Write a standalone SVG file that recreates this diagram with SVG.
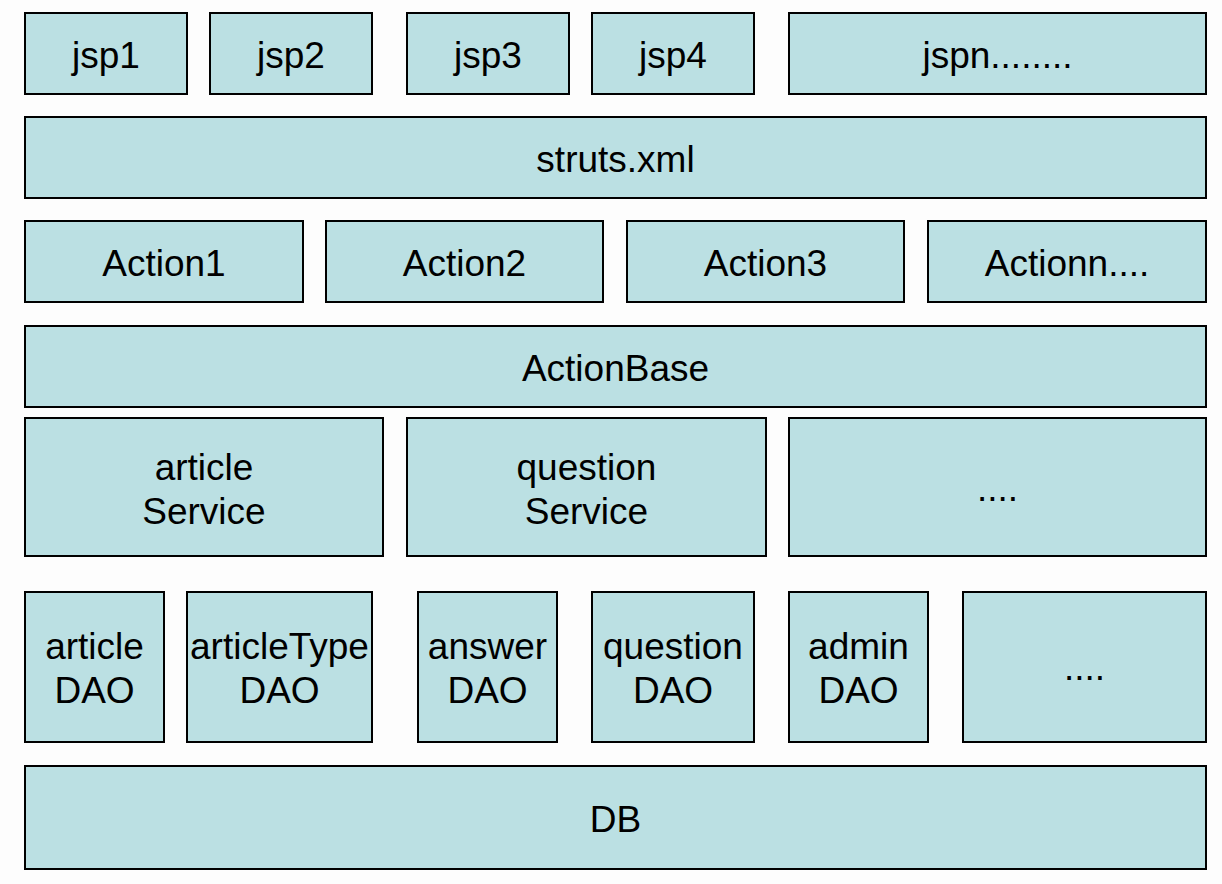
<svg xmlns="http://www.w3.org/2000/svg" width="1222" height="884" viewBox="0 0 1222 884">
<style>
.box{fill:#BBE0E3;stroke:#000;stroke-width:2}
.t{font-family:"Liberation Sans",Arial,sans-serif;font-size:37px;fill:#000;text-anchor:middle}
</style>
<rect width="1222" height="884" fill="#fdfdfd"/>
<g id="jsp1"><rect class="box" x="25" y="13" width="162" height="81"/><text class="t" x="106" y="68">jsp1</text></g>
<g id="jsp2"><rect class="box" x="210" y="13" width="162" height="81"/><text class="t" x="291" y="68">jsp2</text></g>
<g id="jsp3"><rect class="box" x="407" y="13" width="162" height="81"/><text class="t" x="488" y="68">jsp3</text></g>
<g id="jsp4"><rect class="box" x="592" y="13" width="162" height="81"/><text class="t" x="673" y="68">jsp4</text></g>
<g id="jspn"><rect class="box" x="789" y="13" width="417" height="81"/><text class="t" x="997.5" y="68">jspn........</text></g>
<g id="struts"><rect class="box" x="25" y="117" width="1181" height="81"/><text class="t" x="615.5" y="172">struts.xml</text></g>
<g id="action1"><rect class="box" x="25" y="221" width="278" height="81"/><text class="t" x="164" y="276">Action1</text></g>
<g id="action2"><rect class="box" x="326" y="221" width="277" height="81"/><text class="t" x="464.5" y="276">Action2</text></g>
<g id="action3"><rect class="box" x="627" y="221" width="277" height="81"/><text class="t" x="765.5" y="276">Action3</text></g>
<g id="actionn"><rect class="box" x="928" y="221" width="278" height="81"/><text class="t" x="1067" y="276">Actionn....</text></g>
<g id="actionbase"><rect class="box" x="25" y="326" width="1181" height="81"/><text class="t" x="615.5" y="381">ActionBase</text></g>
<g id="articleService"><rect class="box" x="25" y="418" width="358" height="138"/><text class="t" x="204" y="480">article</text><text class="t" x="204" y="524">Service</text></g>
<g id="questionService"><rect class="box" x="407" y="418" width="359" height="138"/><text class="t" x="586.5" y="480">question</text><text class="t" x="586.5" y="524">Service</text></g>
<g id="moreService"><rect class="box" x="789" y="418" width="417" height="138"/><text class="t" x="997.5" y="501">....</text></g>
<g id="articleDAO"><rect class="box" x="25" y="592" width="139" height="150"/><text class="t" x="94.5" y="659">article</text><text class="t" x="94.5" y="703">DAO</text></g>
<g id="articleTypeDAO"><rect class="box" x="187" y="592" width="185" height="150"/><text class="t" x="279.5" y="659">articleType</text><text class="t" x="279.5" y="703">DAO</text></g>
<g id="answerDAO"><rect class="box" x="418" y="592" width="139" height="150"/><text class="t" x="487.5" y="659">answer</text><text class="t" x="487.5" y="703">DAO</text></g>
<g id="questionDAO"><rect class="box" x="592" y="592" width="162" height="150"/><text class="t" x="673" y="659">question</text><text class="t" x="673" y="703">DAO</text></g>
<g id="adminDAO"><rect class="box" x="789" y="592" width="139" height="150"/><text class="t" x="858.5" y="659">admin</text><text class="t" x="858.5" y="703">DAO</text></g>
<g id="moreDAO"><rect class="box" x="963" y="592" width="243" height="150"/><text class="t" x="1084.5" y="680">....</text></g>
<g id="db"><rect class="box" x="25" y="766" width="1181" height="103"/><text class="t" x="615.5" y="832">DB</text></g>
<g id="connectors"/>
</svg>
